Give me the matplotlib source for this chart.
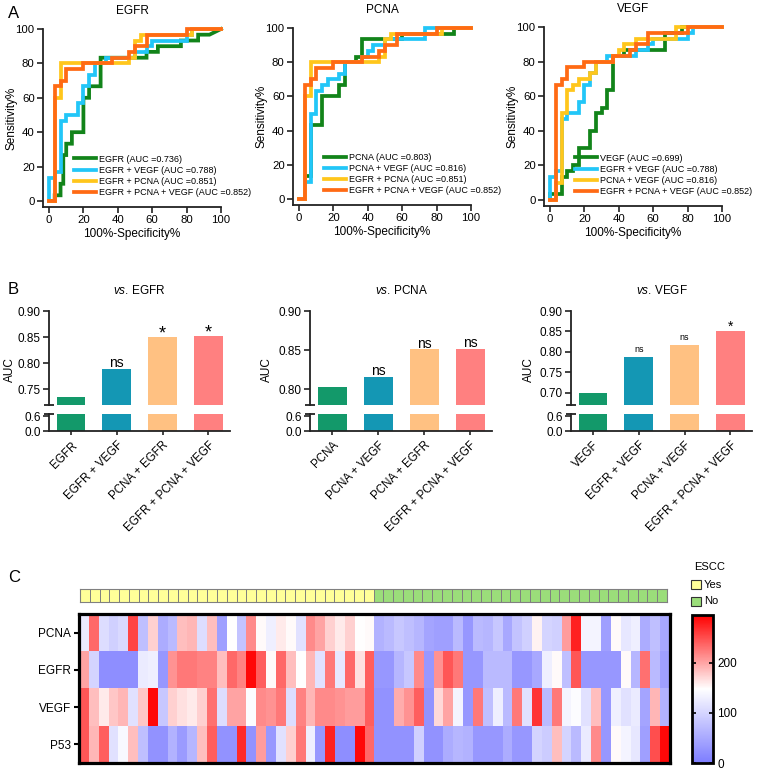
import matplotlib
matplotlib.use('Agg')
import matplotlib.pyplot as plt
import numpy as np
from matplotlib.colors import LinearSegmentedColormap, ListedColormap
from matplotlib.patches import Rectangle

plt.rcParams['font.family'] = ['Liberation Sans', 'DejaVu Sans']
plt.rcParams['mathtext.fontset'] = 'custom'
plt.rcParams['mathtext.rm'] = 'Liberation Sans'
plt.rcParams['mathtext.it'] = 'Liberation Sans:italic'

# ---------------- DATA ----------------
# ROC curves (x = 100% - specificity %, y = sensitivity %)
egfr_x = [0, 3.3, 3.3, 6.7, 6.7, 8.3, 8.3, 10, 10, 13.3, 13.3, 20, 20, 23.3, 23.3, 30, 30, 56.7, 56.7, 63.3, 63.3, 76.7, 76.7, 86.7, 86.7, 93.3, 100]
egfr_y = [0, 0, 3.3, 3.3, 10, 10, 26.7, 26.7, 33.3, 33.3, 40, 40, 60, 60, 66.7, 66.7, 83.3, 83.3, 86.7, 86.7, 90, 90, 93.3, 93.3, 96.7, 96.7, 100]

pcna_x = [0, 3.3, 3.3, 6.7, 6.7, 13.3, 13.3, 23.3, 23.3, 26.7, 26.7, 33.3, 33.3, 36.7, 36.7, 60, 60, 90, 90, 100]
pcna_y = [0, 0, 13.3, 13.3, 43.3, 43.3, 60, 60, 66.7, 66.7, 80, 80, 83.3, 83.3, 93.3, 93.3, 96.7, 96.7, 100, 100]

vegf_x = [0, 0, 6.7, 6.7, 10, 10, 13.3, 13.3, 16.7, 16.7, 23.3, 23.3, 26.7, 26.7, 30, 30, 33.3, 33.3, 36.7, 36.7, 43.3, 43.3, 66.7, 66.7, 76.7, 76.7, 100]
vegf_y = [0, 3.3, 3.3, 13.3, 13.3, 16.7, 16.7, 20, 20, 30, 30, 40, 40, 50, 50, 53.3, 53.3, 63.3, 63.3, 83.3, 83.3, 86.7, 86.7, 96.7, 96.7, 100, 100]

egfr_vegf_x = [0, 0, 3.3, 3.3, 6.7, 6.7, 10, 10, 16.7, 16.7, 20, 20, 23.3, 23.3, 26.7, 26.7, 33.3, 33.3, 50, 50, 56.7, 56.7, 60, 60, 80, 80, 83.3, 83.3, 100]
egfr_vegf_y = [0, 13.3, 13.3, 16.7, 16.7, 46.7, 46.7, 50, 50, 56.7, 56.7, 66.7, 66.7, 73.3, 73.3, 80, 80, 83.3, 83.3, 86.7, 86.7, 90, 90, 93.3, 93.3, 96.7, 96.7, 100, 100]

egfr_pcna_x = [0, 3.3, 3.3, 6.7, 6.7, 46.7, 46.7, 50, 50, 53.3, 53.3, 83.3, 83.3, 100]
egfr_pcna_y = [0, 0, 60, 60, 80, 80, 83.3, 83.3, 93.3, 93.3, 96.7, 96.7, 100, 100]

pcna_vegf_x = [0, 3.3, 3.3, 6.7, 6.7, 10, 10, 13.3, 13.3, 16.7, 16.7, 23.3, 23.3, 26.7, 26.7, 36.7, 36.7, 40, 40, 43.3, 43.3, 50, 50, 73.3, 73.3, 100]
pcna_vegf_y = [0, 0, 10, 10, 50, 50, 63.3, 63.3, 66.7, 66.7, 70, 70, 73.3, 73.3, 80, 80, 83.3, 83.3, 86.7, 86.7, 90, 90, 93.3, 93.3, 100, 100]

all3_x = [0, 3.3, 3.3, 6.7, 6.7, 10, 10, 20, 20, 36.7, 36.7, 46.7, 46.7, 50, 50, 56.7, 56.7, 80, 80, 100]
all3_y = [0, 0, 66.7, 66.7, 70, 70, 76.7, 76.7, 80, 80, 83.3, 83.3, 86.7, 86.7, 90, 90, 96.7, 96.7, 100, 100]

roc_titles = ['EGFR', 'PCNA', 'VEGF']
roc_labels = [
    ['EGFR (AUC =0.736)', 'EGFR + VEGF (AUC =0.788)', 'EGFR + PCNA (AUC =0.851)', 'EGFR + PCNA + VEGF (AUC =0.852)'],
    ['PCNA (AUC =0.803)', 'PCNA + VEGF (AUC =0.816)', 'EGFR + PCNA (AUC =0.851)', 'EGFR + PCNA + VEGF (AUC =0.852)'],
    ['VEGF (AUC =0.699)', 'EGFR + VEGF (AUC =0.788)', 'PCNA + VEGF (AUC =0.816)', 'EGFR + PCNA + VEGF (AUC =0.852)'],
]
roc_curves = [
    [(egfr_x, egfr_y), (egfr_vegf_x, egfr_vegf_y), (egfr_pcna_x, egfr_pcna_y), (all3_x, all3_y)],
    [(pcna_x, pcna_y), (pcna_vegf_x, pcna_vegf_y), (egfr_pcna_x, egfr_pcna_y), (all3_x, all3_y)],
    [(vegf_x, vegf_y), (egfr_vegf_x, egfr_vegf_y), (pcna_vegf_x, pcna_vegf_y), (all3_x, all3_y)],
]

# AUC bar comparisons
bar_titles = ['EGFR', 'PCNA', 'VEGF']
bar_cats = [
    ['EGFR', 'EGFR + VEGF', 'PCNA + EGFR', 'EGFR + PCNA + VEGF'],
    ['PCNA', 'PCNA + VEGF', 'PCNA + EGFR', 'EGFR + PCNA + VEGF'],
    ['VEGF', 'EGFR + VEGF', 'PCNA + VEGF', 'EGFR + PCNA + VEGF'],
]
bar_vals = [
    [0.736, 0.788, 0.851, 0.852],
    [0.803, 0.816, 0.851, 0.852],
    [0.699, 0.788, 0.816, 0.852],
]
bar_sig = [
    ['', 'ns', '*', '*'],
    ['', 'ns', 'ns', 'ns'],
    ['', 'ns', 'ns', '*'],
]
bar_upper_ticks = [
    [0.75, 0.80, 0.85, 0.90],
    [0.80, 0.85, 0.90],
    [0.70, 0.75, 0.80, 0.85, 0.90],
]
bar_upper_lim = [(0.72, 0.90), (0.78, 0.90), (0.67, 0.90)]

# Heatmap
genes = ['PCNA', 'EGFR', 'VEGF', 'P53']
escc = [1, 1, 1, 1, 1, 1, 1, 1, 1, 1, 1, 1, 1, 1, 1, 1, 1, 1, 1, 1, 1, 1, 1, 1, 1, 1, 1, 1, 1, 1,
        0, 0, 0, 0, 0, 0, 0, 0, 0, 0, 0, 0, 0, 0, 0, 0, 0, 0, 0, 0, 0, 0, 0, 0, 0, 0, 0, 0, 0, 0]
pcna_expr = [125, 235, 110, 95, 105, 255, 75, 175, 55, 70, 185, 190, 110, 185, 40, 148, 80, 215, 150, 130,
             160, 150, 115, 215, 200, 175, 160, 175, 148, 150,
             60, 70, 85, 75, 65, 45, 40, 40, 70, 30, 70, 65, 85, 50, 80, 95, 155, 100, 95, 205,
             275, 135, 135, 40, 150, 120, 130, 55, 75, 50]
egfr_expr = [200, 100, 20, 20, 20, 20, 125, 130, 30, 210, 225, 225, 220, 220, 185, 235, 220, 290, 240, 150,
             235, 185, 148, 190, 115, 225, 120, 235, 165, 240,
             30, 30, 65, 85, 215, 30, 210, 245, 225, 30, 30, 70, 70, 70, 30, 30, 50, 130, 150, 75,
             245, 30, 30, 30, 30, 150, 65, 230, 70, 40]
vegf_expr = [245, 185, 160, 180, 190, 115, 180, 290, 85, 175, 165, 160, 175, 230, 110, 200, 200, 145, 215, 210,
             225, 110, 220, 190, 215, 215, 210, 205, 205, 240,
             25, 25, 195, 210, 240, 25, 170, 200, 135, 30, 225, 75, 130, 70, 225, 115, 265, 70, 225, 135,
             145, 115, 185, 30, 130, 115, 125, 45, 190, 60]
p53_expr = [245, 190, 240, 115, 140, 185, 75, 25, 25, 60, 35, 65, 185, 240, 25, 25, 270, 25, 205, 30,
            115, 175, 225, 130, 30, 275, 20, 20, 290, 235,
            25, 25, 25, 25, 95, 25, 25, 55, 65, 60, 30, 30, 30, 55, 30, 30, 100, 90, 185, 100,
            70, 125, 215, 30, 150, 135, 120, 40, 250, 290]
cbar_ticks = [0, 100, 200]

# ---------------- STYLE ----------------
W, H = 764, 770
fig = plt.figure(figsize=(W / 100, H / 100), dpi=100)


def box(l, t, r, b):
    return [l / W, 1 - b / H, (r - l) / W, (b - t) / H]


roc_colors = ['#12841a', '#22c6f8', '#ffc61c', '#ff6a14']
bar_colors = ['#13996a', '#1497b4', '#ffc182', '#ff8080']
axc = '#222222'

# ---------------- PANEL A ----------------
roc_boxes = [(43, 29, 221, 207), (293, 28, 471, 205), (544, 27, 722, 206)]
for k in range(3):
    l, t, r, b = roc_boxes[k]
    ax = fig.add_axes(box(l, t, r, b))
    for (xs, ys), lab, c in zip(roc_curves[k], roc_labels[k], roc_colors):
        ax.plot(xs, ys, color=c, lw=2.7, label=lab, clip_on=False, solid_joinstyle='miter')
    ax.set_xlim(-3.5, 100)
    ax.set_ylim(-3.5, 100)
    for s in ['top', 'right']:
        ax.spines[s].set_visible(False)
    for s in ['left', 'bottom']:
        ax.spines[s].set_linewidth(1.3)
        ax.spines[s].set_color(axc)
    ax.set_xticks([0, 20, 40, 60, 80, 100])
    ax.set_yticks([0, 20, 40, 60, 80, 100])
    ax.tick_params(length=4, width=1.2, labelsize=8.2, pad=2, color=axc)
    ax.set_title(roc_titles[k], fontsize=8.5, pad=11)
    ax.set_xlabel('100%-Specificity%', fontsize=8.5)
    ax.xaxis.set_label_coords(0.5, -0.12)
    ax.set_ylabel('Sensitivity%', fontsize=8.5)
    ax.yaxis.set_label_coords(-0.145, 0.5)
    ax.legend(loc='lower left', bbox_to_anchor=(0.15, 0.03), frameon=False, fontsize=6.5,
              handlelength=2.4, handletextpad=0.4, borderpad=0.0, labelspacing=0.24)

# ---------------- PANEL B ----------------
bar_boxes = [(49, 230), (310, 492), (571, 752)]
ylab_x = [10, 267, 529]
sig_size = [[0, 10, 13, 13], [0, 10, 10, 10], [0, 6.5, 6.5, 10]]
sig_off = [[0, 1.5, -1.3, -1.3], [0, 1.0, 1.0, 1.0], [0, 3.6, 3.6, 0.0]]
for k in range(3):
    l, r = bar_boxes[k]
    axu = fig.add_axes(box(l, 311, r, 405))
    axl = fig.add_axes(box(l, 414, r, 431))
    xs = np.arange(len(bar_cats[k]))
    for a in (axu, axl):
        a.bar(xs, bar_vals[k], width=0.63, color=bar_colors, edgecolor='none')
        a.set_xlim(-0.48, 3.47)
        for s in ['top', 'right']:
            a.spines[s].set_visible(False)
        a.spines['left'].set_linewidth(1.3)
        a.spines['left'].set_color(axc)
        a.spines['bottom'].set_linewidth(1.3)
        a.spines['bottom'].set_color(axc)
        a.tick_params(length=4, width=1.2, labelsize=8.5, pad=2, color=axc)
    axu.set_ylim(*bar_upper_lim[k])
    axu.spines['bottom'].set_visible(False)
    axu.set_xticks([])
    axu.set_yticks(bar_upper_ticks[k])
    axu.set_yticklabels(['%.2f' % t for t in bar_upper_ticks[k]])
    axl.set_ylim(0, 0.7)
    axl.set_yticks([0.0, 0.6])
    axl.set_yticklabels(['0.0', '0.6'])
    axl.set_xticks(xs)
    axl.set_xticklabels(bar_cats[k], rotation=45, ha='right', rotation_mode='anchor', fontsize=8.3)
    axl.tick_params(axis='x', length=3, pad=3)
    # axis break marks
    axu.plot([0], [0], transform=axu.transAxes, marker='_', ms=7, mew=1.3, color=axc, clip_on=False)
    axl.plot([0], [1], transform=axl.transAxes, marker='_', ms=7, mew=1.3, color=axc, clip_on=False)
    for i, (v, sg) in enumerate(zip(bar_vals[k], bar_sig[k])):
        if sg:
            axu.annotate(sg, (xs[i], v), xytext=(0, sig_off[k][i]), textcoords='offset points',
                         ha='center', va='baseline', fontsize=sig_size[k][i], annotation_clip=False)
    axu.set_title(r'$\mathit{vs}$. ' + bar_titles[k], fontsize=8.5, pad=12)
    fig.text(ylab_x[k] / W, 1 - 370 / H, 'AUC', rotation=90, ha='center', va='center', fontsize=8.5)

# ---------------- PANEL C ----------------
cmap = LinearSegmentedColormap.from_list('bwr2', ['#7d7dff', '#ffffff', '#ff0000'])
data = np.array([pcna_expr, egfr_expr, vegf_expr, p53_expr])
axh = fig.add_axes(box(79, 614, 670, 763))
im = axh.imshow(data, aspect='auto', cmap=cmap, vmin=0, vmax=295, interpolation='nearest')
axh.set_xticks([])
axh.set_yticks(range(len(genes)))
axh.set_yticklabels(genes, fontsize=8.5)
axh.tick_params(axis='y', length=3.5, width=1.5, pad=2)
for s in axh.spines.values():
    s.set_linewidth(2.3)
    s.set_color('black')

yes_col = '#ffff99'
no_col = '#9bde7a'
axa = fig.add_axes(box(80, 589, 667, 602))
axa.pcolormesh(np.array([escc]), cmap=ListedColormap([no_col, yes_col]), vmin=0, vmax=1,
               edgecolors='#808080', linewidth=0.7)
axa.set_xticks([])
axa.set_yticks([])
for s in axa.spines.values():
    s.set_color('#808080')
    s.set_linewidth(0.8)

cax = fig.add_axes(box(692, 615, 713, 763))
cb = fig.colorbar(im, cax=cax, ticks=cbar_ticks)
cb.outline.set_linewidth(2.0)
cax.tick_params(direction='in', left=True, right=True, labelleft=False, labelright=True,
                length=3, width=1.2, labelsize=8.5, pad=3)

fig.text(710 / W, 1 - 567 / H, 'ESCC', ha='center', va='center', fontsize=8)
fig.patches.append(Rectangle((691 / W, 1 - 589 / H), 10 / W, 9 / H, transform=fig.transFigure,
                             facecolor=yes_col, edgecolor='#333333', lw=0.8))
fig.patches.append(Rectangle((691 / W, 1 - 606 / H), 10 / W, 9 / H, transform=fig.transFigure,
                             facecolor=no_col, edgecolor='#333333', lw=0.8))
fig.text(704 / W, 1 - 584.5 / H, 'Yes', ha='left', va='center', fontsize=8)
fig.text(704 / W, 1 - 601.5 / H, 'No', ha='left', va='center', fontsize=8)

# panel letters
fig.text(8 / W, 1 - 13 / H, 'A', fontsize=12, ha='left', va='center')
fig.text(8 / W, 1 - 290 / H, 'B', fontsize=12, ha='left', va='center')
fig.text(8 / W, 1 - 577 / H, 'C', fontsize=12, ha='left', va='center')

fig.savefig('out.png', dpi=100)
